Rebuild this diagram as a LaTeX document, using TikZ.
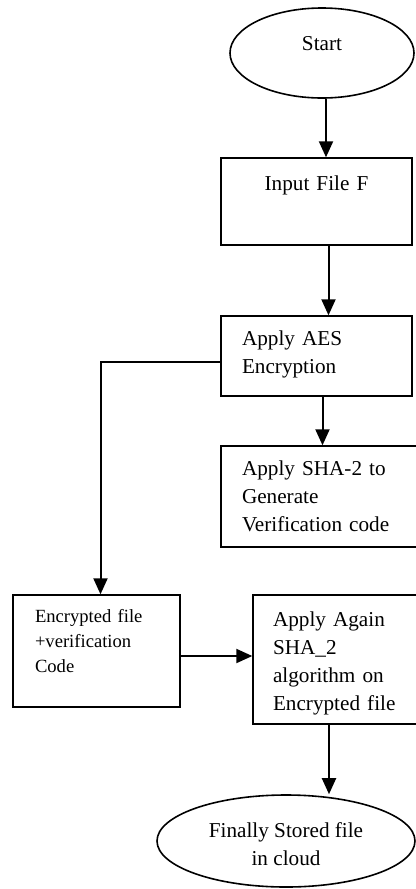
\documentclass[tikz,border=0pt]{standalone}
\usepackage{fontspec}
\setmainfont{Liberation Serif}
\usetikzlibrary{arrows.meta,shapes.geometric}
\newcommand{\fsnorm}{\fontsize{10.6pt}{14pt}\selectfont}
\newcommand{\fsklein}{\fontsize{9.3pt}{12.5pt}\selectfont}
\tikzset{
  pfeil/.style={-{Triangle[length=8pt,width=7pt]},black,line width=1pt},
  kasten/.style={draw,rectangle,line width=0.7pt,inner xsep=10.5pt,inner ysep=0pt,align=left,font=\fsnorm,text height=8pt},
  oval/.style={draw,ellipse,line width=0.8pt,inner sep=0pt,align=center,font=\fsnorm,text height=8pt},
}

\begin{document}
\begin{tikzpicture}[x=0.5pt,y=-0.5pt]
  \clip (0,0) rectangle (416,889);
  \node[oval,minimum width=92pt,minimum height=45pt,text depth=11pt] (start) at (322,53) {Start};
  \node[kasten,align=center,text width=74.5pt,minimum height=43.5pt,text depth=19.5pt] (input) at (316.5,201.5) {Input File F};
  \node[kasten,text width=74.5pt,minimum height=40pt,text depth=18.3pt] (aes) at (316.5,356) {Apply AES\\Encryption};
  \node[kasten,text width=77.5pt,minimum height=50.5pt,text depth=28.8pt] (sha) at (319.5,496.5) {Apply SHA-2 to\\Generate\\Verification code};
  \node[kasten,font=\fsklein,inner xsep=11pt,text width=61.5pt,minimum height=56pt,text depth=36.3pt] (enc) at (96.5,651) {Encrypted file\\+verification\\Code};
  \node[kasten,inner xsep=10pt,text width=64pt,minimum height=64.5pt,text depth=41.5pt] (again) at (337,659.5) {Apply Again\\SHA\_2\\algorithm on\\Encrypted file};
  \node[oval,minimum width=129pt,minimum height=46pt,text height=26pt,text depth=2pt] (final) at (286,841) {Finally Stored file\\in cloud};
  \draw[pfeil] ([xshift=2pt]start.south) -- ([xshift=2pt]start.south |- input.north);
  \draw[pfeil] ([xshift=6pt]input.south) -- ([xshift=6pt]input.south |- aes.north);
  \draw[pfeil] ([xshift=3pt]aes.south) -- ([xshift=3pt]aes.south |- sha.north);
  \draw[pfeil] ([yshift=-3pt]aes.west) -| ([xshift=2pt]enc.north);
  \draw[pfeil] ([yshift=-2.5pt]enc.east) -- ([yshift=-2.5pt]enc.east -| again.west);
  \draw[pfeil] ([xshift=-4pt]again.south) -- ([xshift=-4pt]again.south |- final.north);
\end{tikzpicture}
\end{document}
